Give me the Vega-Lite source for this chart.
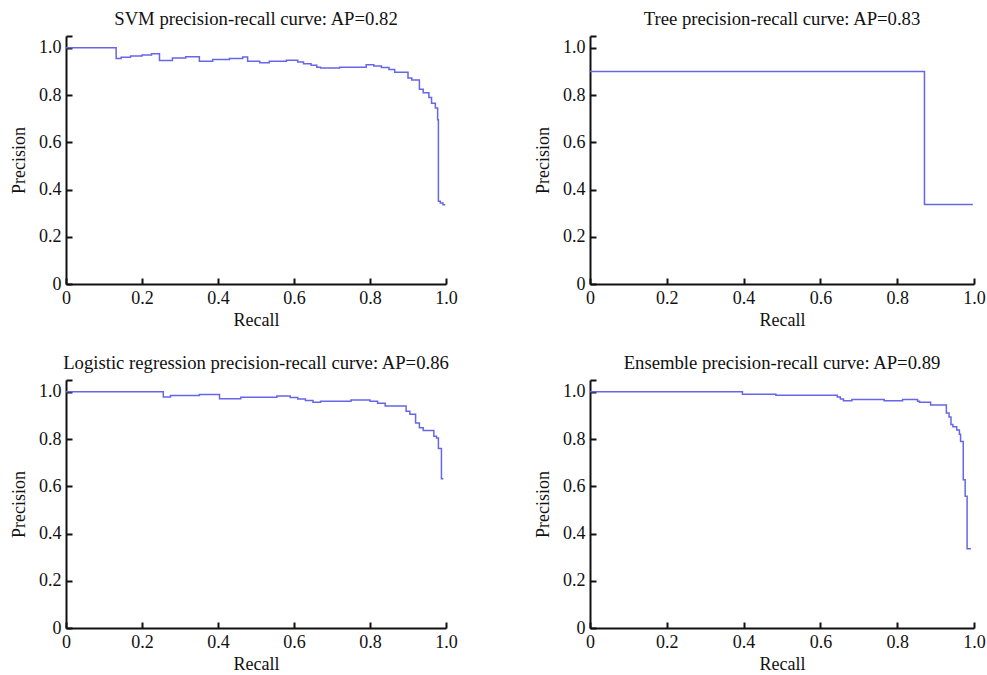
{
  "$schema": "https://vega.github.io/schema/vega-lite/v6.json",
  "background": "white",
  "padding": {"left": 10, "top": 9, "right": 5, "bottom": 2},
  "datasets": {
    "svm": [
      {"recall": 0, "precision": 1.0},
      {"recall": 0.132, "precision": 0.955},
      {"recall": 0.145, "precision": 0.96},
      {"recall": 0.17, "precision": 0.965},
      {"recall": 0.2, "precision": 0.97},
      {"recall": 0.225, "precision": 0.975},
      {"recall": 0.246, "precision": 0.946},
      {"recall": 0.28, "precision": 0.957},
      {"recall": 0.315, "precision": 0.962},
      {"recall": 0.351, "precision": 0.943},
      {"recall": 0.386, "precision": 0.95},
      {"recall": 0.43, "precision": 0.955},
      {"recall": 0.465, "precision": 0.961},
      {"recall": 0.478, "precision": 0.943},
      {"recall": 0.51, "precision": 0.937},
      {"recall": 0.535, "precision": 0.943},
      {"recall": 0.58, "precision": 0.947},
      {"recall": 0.61, "precision": 0.94},
      {"recall": 0.625, "precision": 0.933},
      {"recall": 0.645, "precision": 0.926},
      {"recall": 0.66, "precision": 0.918},
      {"recall": 0.67, "precision": 0.915},
      {"recall": 0.72, "precision": 0.918},
      {"recall": 0.79, "precision": 0.928},
      {"recall": 0.81, "precision": 0.923},
      {"recall": 0.83, "precision": 0.917},
      {"recall": 0.85, "precision": 0.908},
      {"recall": 0.865, "precision": 0.896},
      {"recall": 0.9, "precision": 0.872},
      {"recall": 0.91, "precision": 0.864},
      {"recall": 0.93, "precision": 0.825},
      {"recall": 0.94, "precision": 0.81},
      {"recall": 0.955, "precision": 0.79},
      {"recall": 0.962, "precision": 0.765},
      {"recall": 0.972, "precision": 0.745},
      {"recall": 0.978, "precision": 0.695},
      {"recall": 0.98, "precision": 0.35},
      {"recall": 0.985, "precision": 0.343},
      {"recall": 0.992, "precision": 0.336},
      {"recall": 0.998, "precision": 0.336}
    ],
    "tree": [
      {"recall": 0, "precision": 0.9},
      {"recall": 0.871, "precision": 0.337},
      {"recall": 0.997, "precision": 0.337}
    ],
    "logistic": [
      {"recall": 0, "precision": 1.0},
      {"recall": 0.256, "precision": 0.978},
      {"recall": 0.275, "precision": 0.984},
      {"recall": 0.351, "precision": 0.989},
      {"recall": 0.404, "precision": 0.971},
      {"recall": 0.46, "precision": 0.977},
      {"recall": 0.555, "precision": 0.982},
      {"recall": 0.59, "precision": 0.976},
      {"recall": 0.61, "precision": 0.97},
      {"recall": 0.63, "precision": 0.963},
      {"recall": 0.65, "precision": 0.956},
      {"recall": 0.67, "precision": 0.96},
      {"recall": 0.75, "precision": 0.965},
      {"recall": 0.8, "precision": 0.96},
      {"recall": 0.82, "precision": 0.952},
      {"recall": 0.84, "precision": 0.94},
      {"recall": 0.895, "precision": 0.918},
      {"recall": 0.905, "precision": 0.905},
      {"recall": 0.92, "precision": 0.868},
      {"recall": 0.93, "precision": 0.848},
      {"recall": 0.94, "precision": 0.836},
      {"recall": 0.968, "precision": 0.812},
      {"recall": 0.975, "precision": 0.804},
      {"recall": 0.98, "precision": 0.76},
      {"recall": 0.988, "precision": 0.632},
      {"recall": 0.993, "precision": 0.632}
    ],
    "ensemble": [
      {"recall": 0, "precision": 1.0},
      {"recall": 0.397, "precision": 0.99},
      {"recall": 0.484, "precision": 0.985},
      {"recall": 0.644, "precision": 0.978},
      {"recall": 0.652, "precision": 0.97},
      {"recall": 0.66, "precision": 0.962},
      {"recall": 0.682, "precision": 0.967},
      {"recall": 0.766, "precision": 0.962},
      {"recall": 0.814, "precision": 0.967},
      {"recall": 0.853, "precision": 0.96},
      {"recall": 0.858, "precision": 0.956},
      {"recall": 0.887, "precision": 0.944},
      {"recall": 0.928, "precision": 0.91},
      {"recall": 0.935, "precision": 0.893},
      {"recall": 0.94, "precision": 0.862},
      {"recall": 0.945, "precision": 0.852},
      {"recall": 0.955, "precision": 0.838},
      {"recall": 0.962, "precision": 0.82},
      {"recall": 0.965, "precision": 0.79},
      {"recall": 0.972, "precision": 0.628},
      {"recall": 0.977, "precision": 0.558},
      {"recall": 0.982, "precision": 0.336},
      {"recall": 0.992, "precision": 0.336}
    ]
  },
  "columns": 2,
  "spacing": {"row": 96, "column": 144},
  "bounds": "flush",
  "concat": [
    {
      "title": "SVM precision-recall curve: AP=0.82",
      "width": 380, "height": 248,
      "data": {"name": "svm"},
      "mark": {"type": "line", "interpolate": "step-after"},
      "encoding": {
        "x": {"field": "recall", "type": "quantitative", "title": "Recall", "scale": {"domain": [0, 1], "nice": false}, "axis": {"values": [0, 0.2, 0.4, 0.6, 0.8, 1.0]}},
        "y": {"field": "precision", "type": "quantitative", "title": "Precision", "scale": {"domain": [0, 1.05], "nice": false}, "axis": {"values": [0, 0.2, 0.4, 0.6, 0.8, 1.0, 1.05]}}
      }
    },
    {
      "title": "Tree precision-recall curve: AP=0.83",
      "width": 384, "height": 248,
      "data": {"name": "tree"},
      "mark": {"type": "line", "interpolate": "step-after"},
      "encoding": {
        "x": {"field": "recall", "type": "quantitative", "title": "Recall", "scale": {"domain": [0, 1], "nice": false}, "axis": {"values": [0, 0.2, 0.4, 0.6, 0.8, 1.0]}},
        "y": {"field": "precision", "type": "quantitative", "title": "Precision", "scale": {"domain": [0, 1.05], "nice": false}, "axis": {"values": [0, 0.2, 0.4, 0.6, 0.8, 1.0, 1.05]}}
      }
    },
    {
      "title": "Logistic regression precision-recall curve: AP=0.86",
      "width": 380, "height": 248,
      "data": {"name": "logistic"},
      "mark": {"type": "line", "interpolate": "step-after"},
      "encoding": {
        "x": {"field": "recall", "type": "quantitative", "title": "Recall", "scale": {"domain": [0, 1], "nice": false}, "axis": {"values": [0, 0.2, 0.4, 0.6, 0.8, 1.0]}},
        "y": {"field": "precision", "type": "quantitative", "title": "Precision", "scale": {"domain": [0, 1.05], "nice": false}, "axis": {"values": [0, 0.2, 0.4, 0.6, 0.8, 1.0, 1.05]}}
      }
    },
    {
      "title": "Ensemble precision-recall curve: AP=0.89",
      "width": 384, "height": 248,
      "data": {"name": "ensemble"},
      "mark": {"type": "line", "interpolate": "step-after"},
      "encoding": {
        "x": {"field": "recall", "type": "quantitative", "title": "Recall", "scale": {"domain": [0, 1], "nice": false}, "axis": {"values": [0, 0.2, 0.4, 0.6, 0.8, 1.0]}},
        "y": {"field": "precision", "type": "quantitative", "title": "Precision", "scale": {"domain": [0, 1.05], "nice": false}, "axis": {"values": [0, 0.2, 0.4, 0.6, 0.8, 1.0, 1.05]}}
      }
    }
  ],
  "config": {
    "font": "Liberation Serif",
    "view": {"stroke": null},
    "line": {"color": "#6666e8", "strokeWidth": 1.5},
    "title": {"font": "Liberation Serif", "fontSize": 18.7, "fontWeight": "normal", "color": "#111", "offset": -1.3, "anchor": "middle"},
    "axis": {
      "grid": false,
      "domainColor": "#111",
      "domainWidth": 2,
      "tickColor": "#111",
      "tickWidth": 2,
      "tickSize": -6,
      "labelFont": "Liberation Serif",
      "labelFontSize": 18,
      "labelColor": "#111",
      "labelPadding": 11,
      "labelFlush": false,
      "labelOverlap": false,
      "labelExpr": "datum.value > 1.01 ? '' : (datum.value == 0 ? '0' : format(datum.value, '.1f'))",
      "titleFont": "Liberation Serif",
      "titleFontSize": 18,
      "titleFontWeight": "normal",
      "titleColor": "#111"
    },
    "axisX": {"titlePadding": 4},
    "axisY": {"titlePadding": 10}
  }
}
